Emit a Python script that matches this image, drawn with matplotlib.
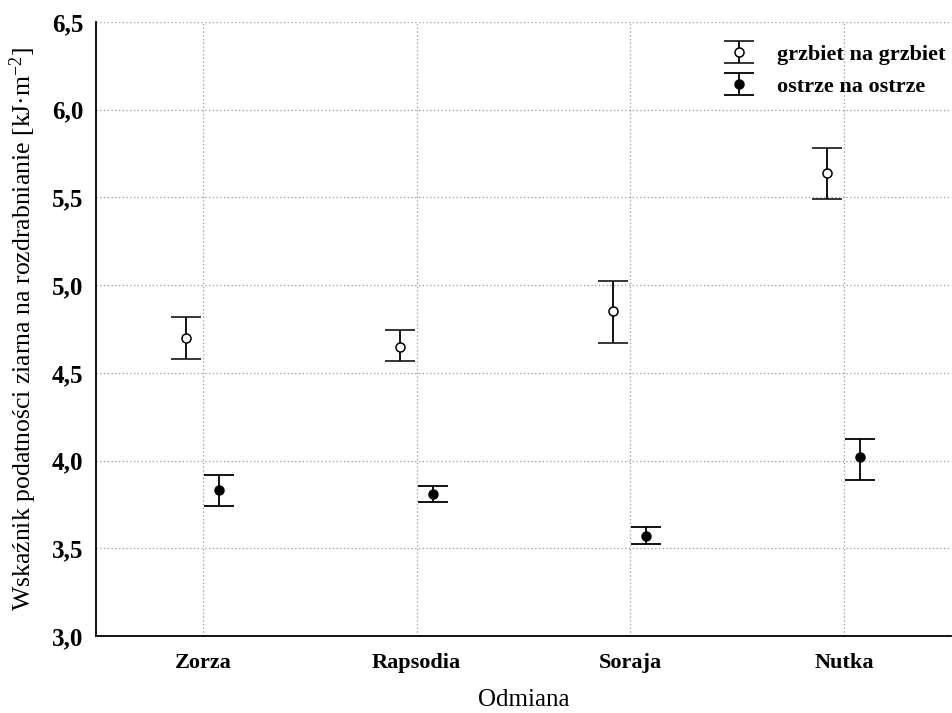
import matplotlib
matplotlib.use("Agg")
import matplotlib.pyplot as plt
import numpy as np

categories = ["Zorza", "Rapsodia", "Soraja", "Nutka"]
grzbiet_mean = [4.70, 4.65, 4.85, 5.64]
grzbiet_low = [4.58, 4.57, 4.67, 5.49]
grzbiet_high = [4.82, 4.745, 5.025, 5.78]
ostrze_mean = [3.83, 3.81, 3.57, 4.02]
ostrze_low = [3.74, 3.765, 3.525, 3.89]
ostrze_high = [3.92, 3.855, 3.62, 4.125]
yticks = [3.0, 3.5, 4.0, 4.5, 5.0, 5.5, 6.0, 6.5]
ytick_labels = ["3,0", "3,5", "4,0", "4,5", "5,0", "5,5", "6,0", "6,5"]

plt.rcParams['font.family'] = ['Liberation Serif', 'DejaVu Serif']
plt.rcParams['mathtext.fontset'] = 'custom'
plt.rcParams['mathtext.rm'] = 'Liberation Serif'
plt.rcParams['mathtext.it'] = 'Liberation Serif:italic'
plt.rcParams['mathtext.default'] = 'rm'

fig = plt.figure(figsize=(9.53, 7.13), dpi=100)
ax = fig.add_axes([96/953, 1-636/713, (951-96)/953, (636-22)/713])

x = np.arange(len(categories))
gm = np.array(grzbiet_mean); om = np.array(ostrze_mean)
g_err = [gm - np.array(grzbiet_low), np.array(grzbiet_high) - gm]
o_err = [om - np.array(ostrze_low), np.array(ostrze_high) - om]

ax.errorbar(x - 0.08, gm, yerr=g_err, fmt='o', mfc='white', mec='black', ms=6.5,
            mew=1.1, ecolor='black', elinewidth=1.3, capsize=11, capthick=1.3,
            color='black', label='grzbiet na grzbiet', zorder=3)
ax.errorbar(x + 0.075, om, yerr=o_err, fmt='o', mfc='black', mec='black', ms=6.5,
            ecolor='black', elinewidth=1.3, capsize=11, capthick=1.3,
            color='black', label='ostrze na ostrze', zorder=3)

ax.set_xlim(-0.5, 3.5)
ax.set_ylim(3.0, 6.5)
ax.set_xticks(x)
ax.set_xticklabels(categories, fontsize=16, fontweight='bold')
ax.set_yticks(yticks)
ax.set_yticklabels(ytick_labels, fontsize=18, fontweight='bold')
ax.grid(True, linestyle=(0, (1, 2)), color='#999999', linewidth=0.9)
ax.set_axisbelow(True)
for s in ['top', 'right']:
    ax.spines[s].set_visible(False)
for s in ['left', 'bottom']:
    ax.spines[s].set_linewidth(1.3)
ax.tick_params(axis='x', length=0, pad=12)
ax.tick_params(axis='y', length=0, pad=9)

ax.set_xlabel("Odmiana", fontsize=18, labelpad=12)
ax.set_ylabel("Wskaźnik podatności ziarna na rozdrabnianie [kJ·m$^{-2}$]", fontsize=18.5, labelpad=9)

leg = ax.legend(loc='upper right', bbox_to_anchor=(1.012, 0.989), frameon=False,
                prop={'size': 16, 'weight': 'bold'},
                handlelength=2.2, handletextpad=0.6, borderaxespad=0.3, labelspacing=0.5)

fig.savefig("out.png", dpi=100)
